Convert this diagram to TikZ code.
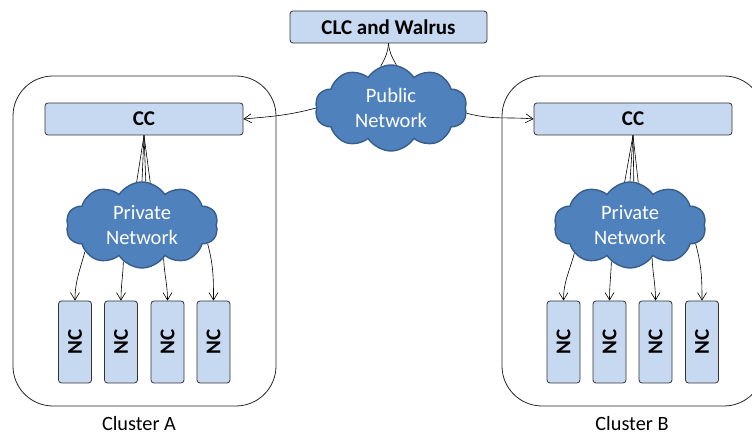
\documentclass[tikz,border=0pt]{standalone}
\usepackage{fontspec}
\setmainfont{Carlito}
\usepackage{graphicx}
\usetikzlibrary{shapes.symbols,arrows.meta}
\definecolor{boxfill}{HTML}{C6D9F1}
\definecolor{cloudfill}{HTML}{4F81BD}
\definecolor{cloudline}{HTML}{385D8A}
\begin{document}
\begin{tikzpicture}[x=1pt,y=1pt,
  box/.style={draw=black!80, fill=boxfill, rounded corners=3pt, line width=0.8pt,
    font=\fontsize{21}{25}\selectfont\bfseries, inner sep=0pt},
  ncbox/.style={box, minimum width=33pt, minimum height=82pt},
  ccbox/.style={box, minimum width=198pt, minimum height=32pt},
  netcloud/.style={cloud, cloud puffs=10, cloud puff arc=115, cloud ignores aspect,
    draw=cloudline, fill=cloudfill, line width=1.4pt, text=white, align=center,
    font=\fontsize{20.5}{24.5}\selectfont, inner sep=0pt, minimum width=152pt, minimum height=86pt},
  cluster/.style={draw=black!85, line width=0.8pt, rounded corners=40pt,
    minimum width=263pt, minimum height=330pt},
  lbl/.style={font=\fontsize{20.3}{24}\selectfont, anchor=base, inner sep=0pt},
  link/.style={line width=0.6pt, black},
  arr/.style={link, -{Straight Barb[length=7.5pt,width=9pt]}}
]
\useasboundingbox (0,0) rectangle (752,435);
\clip (0,0) rectangle (752,435);

% clusters
\node[cluster] (clA) at (144.5,194) {};
\node[cluster, minimum width=262pt] (clB) at (633,194) {};
\node[lbl] (labA) at (139,4) {Cluster A};
\node[lbl] (labB) at (632,4) {Cluster B};

% top
\node[box, minimum width=197pt, minimum height=32pt] (clc) at (388.5,408) {CLC and Walrus};
\node[netcloud] (pub) at (391,327) {Public\\Network};

% cluster A
\node[ccbox] (cca) at (144,316) {CC};
\node[netcloud] (pna) at (142,210) {Private\\Network};
\node[ncbox] (nca1) at (75,93) {\rotatebox{90}{NC}};
\node[ncbox] (nca2) at (121,93) {\rotatebox{90}{NC}};
\node[ncbox] (nca3) at (167.5,93) {\rotatebox{90}{NC}};
\node[ncbox] (nca4) at (213.5,93) {\rotatebox{90}{NC}};

% cluster B
\node[ccbox] (ccb) at (633,316) {CC};
\node[netcloud] (pnb) at (630,210) {Private\\Network};
\node[ncbox] (ncb1) at (563.5,93) {\rotatebox{90}{NC}};
\node[ncbox] (ncb2) at (609.5,93) {\rotatebox{90}{NC}};
\node[ncbox] (ncb3) at (655.5,93) {\rotatebox{90}{NC}};
\node[ncbox] (ncb4) at (702,93) {\rotatebox{90}{NC}};

% connectors top
\draw[link] (clc.south) to[out=-95,in=60] (pub.104);
\draw[link] (clc.south) to[out=-85,in=120] (pub.83);
\draw[arr] (pub.180) to[out=195,in=5] (cca.east);
\draw[arr] (pub.356) to[out=-15,in=175] (ccb.west);

% fans
\foreach \a in {97,90,85,79}{
  \draw[link] (cca.south) -- (pna.\a);
  \draw[link] (ccb.south) -- (pnb.\a);
}

% NC arrows A
\draw[arr] (pna.205) to[out=255,in=90] (nca1.north);
\draw[arr] (pna.243) to[out=268,in=90] (nca2.north);
\draw[arr] (pna.303) to[out=272,in=90] (nca3.north);
\draw[arr] (pna.344) to[out=-75,in=90] (nca4.north);
% NC arrows B
\draw[arr] (pnb.207) to[out=255,in=90] (ncb1.north);
\draw[arr] (pnb.243) to[out=268,in=90] (ncb2.north);
\draw[arr] (pnb.304) to[out=272,in=90] (ncb3.north);
\draw[arr] (pnb.344) to[out=-75,in=90] (ncb4.north);
\end{tikzpicture}
\end{document}
